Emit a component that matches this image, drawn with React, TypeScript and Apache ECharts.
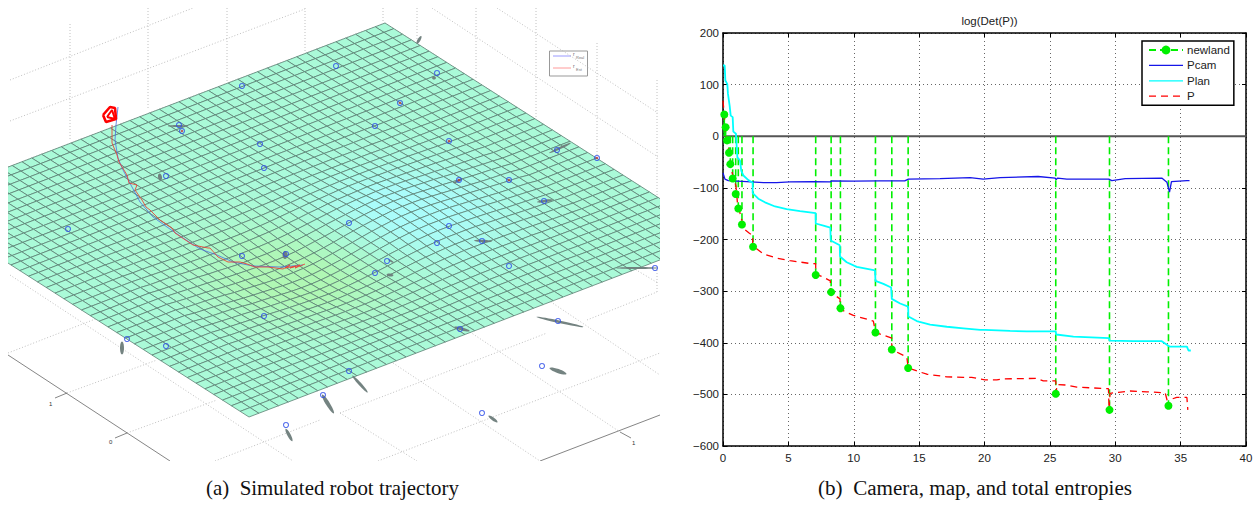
import React, { useEffect, useRef } from "react";
import * as echarts from "echarts";

// ---------- right panel: log(Det(P)) ----------
const xTicks = [0, 5, 10, 15, 20, 25, 30, 35, 40];
const newlandT = [0.1, 0.2, 0.31, 0.46, 0.56, 0.74, 0.97, 1.17, 1.45, 2.3, 7.09, 8.27, 8.98, 11.66, 12.91, 14.16, 25.45, 29.56, 34.07];
const newlandV = [42, 17.5, -8, -32, -54, -82, -112, -140, -171, -214, -268.7, -302, -333, -380, -413, -449, -498.7, -530, -522];
const pcam = [[0,-71],[0.15,-83],[0.41,-86],[1.81,-88],[3.09,-90],[4.1,-90],[5.13,-88.5],[6.9,-88],[8.19,-88.5],[8.3,-86.5],[9.97,-87],[12,-86.5],[13.9,-86.5],[14.18,-83],[16.6,-82],[18.9,-80],[19.9,-83],[21.2,-80],[24.1,-78],[25.4,-81],[25.48,-84],[25.58,-81],[26.3,-83],[29.5,-83],[29.74,-86],[30.76,-82],[33.56,-81],[33.95,-89],[34.15,-108],[34.3,-88],[35.48,-86],[35.68,-86]];
const plan = [[0,137],[0.13,137],[0.18,108],[0.33,101],[0.38,82],[0.51,59],[0.59,40],[0.74,37],[0.79,9],[0.99,5],[1.05,-21],[1.1,-41],[1.3,-47],[1.4,-67],[1.56,-76],[1.94,-85],[2.27,-90],[2.27,-110],[2.7,-121],[3.21,-128],[3.98,-136],[4.87,-141],[5.89,-145],[7.09,-149],[7.09,-169],[7.68,-173],[8.21,-177],[8.24,-202],[8.93,-211],[8.95,-233],[9.46,-244],[10.23,-253],[11.63,-260],[11.66,-280],[12.27,-286],[12.86,-293],[12.91,-315],[13.55,-324],[14.16,-330],[14.18,-349],[14.82,-358],[15.84,-365],[17.12,-369],[18.39,-372],[19.67,-375],[20.04,-375],[21.96,-377],[23.23,-378],[25.45,-378],[25.48,-384],[26.8,-388],[29.53,-391],[29.56,-396],[31.4,-397],[33.56,-397],[33.95,-404],[34.15,-407.5],[35.48,-407.5],[35.6,-415],[35.78,-415]];
const totalP = [[0,69],[0.1,40],[0.2,5],[0.36,-18],[0.54,-41],[0.66,-67],[0.99,-96],[1.1,-128],[1.38,-157],[1.63,-180],[2.02,-188],[2.27,-192],[2.27,-212],[3.09,-228],[4.11,-236],[5.13,-241],[6.53,-246],[7.09,-247],[7.09,-267],[7.68,-273],[8.21,-280],[8.21,-302],[8.95,-315],[8.95,-335],[9.97,-347],[11.5,-358],[11.66,-380],[12.91,-391],[12.91,-413],[14.06,-428],[14.16,-449],[15.59,-461],[17.12,-466],[18.39,-467],[19.02,-467],[20.04,-472],[20.94,-472],[21.45,-470],[24,-469],[24.5,-474],[25.45,-474],[25.48,-496],[25.55,-481],[26.3,-482],[27.06,-486],[29.48,-489],[29.53,-530],[29.6,-498],[30.25,-496],[31.14,-493.5],[32.42,-495],[33.82,-497],[34.07,-522],[34.15,-525],[34.33,-509],[34.7,-506],[35.48,-506],[35.55,-530]];

// ---------- left panel: simulated surface, read in picture-plane units ----------
const sheetTop = [385, 23];
const sheetLeft = [-86, 203];
const sheetRight = [720, 237];
const sheetRows = 48;
const sheetCols = 38;
const tableSpan = 40;
const firstRow = 6;
const firstCol = 12;
// surface height (half-units, up is positive) on a 40-step reading of the sheet,
// rows 6..34, columns 12..36; flat elsewhere
const heightTable = [
  [0,0,0,1,1,1,1,2,2,2,2,3,3,3,2,2,2,2,1,1,1,1,0,0,0],
  [0,0,1,1,1,1,2,2,3,3,4,4,4,4,4,3,3,2,2,1,1,1,1,0,0],
  [0,0,1,1,2,2,3,3,4,5,5,5,6,5,5,5,4,3,3,2,2,1,1,0,0],
  [0,1,1,1,2,3,4,5,5,6,7,7,8,7,7,6,5,5,4,3,2,1,1,1,0],
  [1,1,1,2,3,4,5,6,7,8,9,9,10,9,9,8,7,6,5,4,3,2,1,1,1],
  [1,1,2,2,3,4,6,7,8,10,11,11,11,11,11,10,8,7,6,4,3,2,2,1,1],
  [1,1,2,3,4,5,7,8,10,11,12,13,13,13,12,11,10,8,6,5,4,3,2,1,1],
  [1,1,2,3,4,6,7,9,11,13,14,15,15,15,14,12,11,9,7,5,4,3,2,1,1],
  [1,2,2,3,5,6,8,10,12,13,15,16,16,15,14,13,11,9,7,6,4,3,2,1,1],
  [1,2,2,3,5,6,8,10,12,14,15,16,16,15,14,13,11,9,7,6,4,3,2,1,1],
  [1,2,2,3,5,6,8,9,11,13,14,15,15,14,13,12,10,8,6,5,4,2,2,1,1],
  [1,1,2,3,4,5,7,8,10,11,12,12,12,12,11,10,8,6,5,4,3,2,1,1,0],
  [1,1,2,2,3,4,5,7,8,8,9,9,9,8,8,6,5,4,3,2,2,1,1,0,0],
  [0,1,1,2,2,3,4,4,5,5,5,5,5,4,4,3,2,1,1,0,0,0,0,0,0],
  [0,1,1,1,1,1,2,2,2,2,1,1,0,0,-1,-1,-2,-2,-2,-2,-1,-1,-1,-1,-1],
  [0,0,0,0,0,0,0,-1,-1,-2,-3,-4,-4,-5,-5,-5,-5,-5,-4,-4,-3,-2,-2,-1,-1],
  [0,0,0,-1,-1,-2,-2,-3,-4,-5,-6,-8,-8,-9,-9,-9,-8,-8,-7,-5,-4,-3,-2,-2,-1],
  [0,0,-1,-1,-2,-3,-4,-5,-7,-8,-10,-11,-12,-12,-12,-12,-11,-10,-8,-7,-5,-4,-3,-2,-1],
  [0,-1,-1,-2,-2,-3,-5,-6,-8,-10,-12,-13,-14,-15,-15,-14,-13,-11,-9,-8,-6,-5,-3,-2,-2],
  [-1,-1,-1,-2,-3,-4,-6,-7,-9,-11,-13,-14,-15,-16,-16,-15,-14,-12,-10,-8,-6,-5,-3,-2,-2],
  [-1,-1,-1,-2,-3,-4,-6,-7,-9,-11,-13,-15,-15,-16,-16,-15,-13,-12,-10,-8,-6,-5,-3,-2,-2],
  [-1,-1,-1,-2,-3,-4,-6,-7,-9,-11,-12,-14,-15,-15,-15,-14,-12,-11,-9,-7,-6,-4,-3,-2,-1],
  [0,-1,-1,-2,-3,-4,-5,-6,-8,-10,-11,-12,-13,-13,-13,-12,-11,-10,-8,-6,-5,-4,-3,-2,-1],
  [0,-1,-1,-2,-2,-3,-4,-6,-7,-8,-10,-11,-11,-12,-11,-11,-10,-8,-7,-6,-4,-3,-2,-2,-1],
  [0,-1,-1,-1,-2,-3,-4,-5,-6,-7,-8,-9,-10,-10,-10,-9,-8,-7,-6,-5,-4,-3,-2,-1,-1],
  [0,0,-1,-1,-1,-2,-3,-4,-5,-5,-6,-7,-7,-8,-7,-7,-6,-5,-5,-4,-3,-2,-1,-1,-1],
  [0,0,-1,-1,-1,-2,-2,-3,-3,-4,-5,-5,-5,-6,-5,-5,-5,-4,-3,-3,-2,-2,-1,-1,0],
  [0,0,0,-1,-1,-1,-1,-2,-2,-3,-3,-4,-4,-4,-4,-4,-3,-3,-2,-2,-1,-1,-1,-1,0],
  [0,0,0,0,-1,-1,-1,-1,-2,-2,-2,-2,-3,-3,-3,-2,-2,-2,-2,-1,-1,-1,-1,0,0],
];
const landmarks = [[336,66],[242,86],[179,125],[182,131],[260,144],[264,168],[166,176],[68,229],[437,73],[400,103],[375,126],[449,141],[557,150],[597,158],[459,180],[509,180],[544,201],[349,223],[449,226],[437,243],[482,241],[242,256],[286,254],[264,316],[127,339],[166,346],[323,395],[286,425],[387,261],[375,273],[509,266],[655,268],[558,321],[460,329],[349,371],[542,366],[482,413]];
const estimatedLandmarks = [[449,141],[597,158],[509,180],[400,103],[182,131],[459,180]];
// cx, cy, long radius, short radius, angle in degrees
const uncertainty = [[178,126,10,1,0],[160,177,3.5,2,80],[419,40,4.5,1.5,-60],[434,78,2,1.5,0],[560,148,12,1.2,-25],[458,181,5,1,-25],[545,201,8,1.2,-8],[483,241,9,1.2,3],[122,348,6.5,2,90],[285,255,4,2.5,90],[328,404,11,2,58],[289,435,7,1.7,62],[390,275,3.5,1.5,5],[391,261,3,1,30],[637,268,21,1,0],[560,322,24,1.2,12],[558,371,9,2,20],[360,384,11.5,1.5,48],[493,419,5.5,1.5,35],[462,329,8,1.5,15]];
const realPath = [[118,107],[116,125],[115,140],[118,158],[123,170],[132,187],[140,202],[153,217],[167,227],[183,238],[200,249],[217,255],[233,262],[253,266],[280,267],[303,265]];
const estPath = [[112,125],[112,143],[117,155],[119,162],[127,175],[129,183],[137,185],[135,190],[142,200],[146,207],[150,210],[160,220],[172,228],[175,233],[193,245],[208,248],[210,248],[218,257],[228,262],[240,262],[247,264],[255,267],[268,267],[283,269],[290,265],[285,268],[296,266],[290,268],[300,265],[295,268],[305,264]];
const cameraOutline = [[103,115],[110,107],[115,108],[116,119],[106,122],[103,115]];
const cameraInner = [[107,117],[112,110],[115,119],[107,117]];
// x1, y1, x2, y2 of the dotted box lines
const boxLines = [[70,24,70,140],[148,8,148,110],[227,8,227,82],[305,8,305,52],[383,8,383,23],[417,8,417,40],[476,8,476,80],[536,8,536,118],[597,43,597,158],[657,80,657,199],[10,80,193,8],[10,121,305,9],[8,167,385,23],[432,8,658,157],[497,8,658,113],[385,23,660,199],[10,275,293,461],[8,353,98,318],[67,393,157,360],[127,433,217,400],[215,461,320,420],[378,461,660,353],[340,413,547,333],[587,320,657,292],[393,363,540,461],[470,332,620,432],[548,300,660,375],[633,268,658,283],[657,270,657,292],[340,413,417,461]];
// x1, y1, x2, y2 of the solid axis lines and ticks
const axisSegments = [[8,355,170,461],[540,461,660,415],[67,393,55,398],[127,433,115,438],[620,432,631,438]];

const SANS = "Liberation Sans";
const SERIF = "Liberation Serif";

function tableAt(i: number, j: number) {
  const row = heightTable[i - firstRow];
  const v = row ? row[j - firstCol] : undefined;
  return v === undefined ? 0 : v;
}
// height of a mesh vertex, looked up in the reading table
function heightAt(i: number, j: number) {
  const a = (i / sheetRows) * tableSpan;
  const b = (j / sheetCols) * tableSpan;
  const i0 = Math.floor(a);
  const j0 = Math.floor(b);
  const fa = a - i0;
  const fb = b - j0;
  return (
    (1 - fa) * ((1 - fb) * tableAt(i0, j0) + fb * tableAt(i0, j0 + 1)) +
    fa * ((1 - fb) * tableAt(i0 + 1, j0) + fb * tableAt(i0 + 1, j0 + 1))
  );
}
function vertex(i: number, j: number): number[] {
  const a = i / sheetRows;
  const b = j / sheetCols;
  return [
    sheetTop[0] + a * (sheetLeft[0] - sheetTop[0]) + b * (sheetRight[0] - sheetTop[0]),
    sheetTop[1] + a * (sheetLeft[1] - sheetTop[1]) + b * (sheetRight[1] - sheetTop[1]) - heightAt(i, j) * 0.5,
  ];
}
function mix(a: number[], b: number[], t: number) {
  return `rgb(${a.map((v, k) => Math.round(v + (b[k] - v) * t)).join(",")})`;
}
const BASE = [170, 250, 216];
const HIGH = [170, 252, 250];
const LOW = [176, 247, 180];
function sheetColor(h: number) {
  return h >= 0 ? mix(BASE, HIGH, Math.min(1, h / 13)) : mix(BASE, LOW, Math.min(1, -h / 13));
}

const cells: number[][] = [];
for (let i = 0; i < sheetRows; i++) for (let j = 0; j < sheetCols; j++) cells.push([i, j]);

const newlandData: any[] = [];
newlandT.forEach((t, k) => {
  newlandData.push({ value: [t, 0], symbol: "none" });
  newlandData.push({ value: [t, newlandV[k]] });
  newlandData.push({ value: [t, null], symbol: "none" });
});

const leftAxes = { gridIndex: 0, type: "value", show: false, scale: true } as const;
const hiddenMarker = { opacity: 0, borderWidth: 0 };

function buildOption(): any {
  const segmentSeries = (name: string, data: number[][], color: string, width: number, dash: any) => ({
    name, type: "custom", coordinateSystem: "cartesian2d", xAxisIndex: 0, yAxisIndex: 0, silent: true, clip: true,
    data,
    renderItem: (_: any, api: any) => {
      const p1 = api.coord([api.value(0), api.value(1)]);
      const p2 = api.coord([api.value(2), api.value(3)]);
      return { type: "line", shape: { x1: p1[0], y1: p1[1], x2: p2[0], y2: p2[1] }, style: { stroke: color, lineWidth: width, lineDash: dash, fill: null } };
    },
  });
  return {
    animation: false,
    backgroundColor: "#fff",
    title: {
      text: "log(Det(P))", left: 984.5, top: 10, textAlign: "center",
      textStyle: { fontFamily: SANS, fontSize: 11.5, fontWeight: "normal", color: "#222" },
    },
    grid: [
      { left: 8, top: 8, width: 652, height: 453 },
      { left: 723, top: 33, width: 523, height: 413 },
    ],
    xAxis: [
      { ...leftAxes, min: 8, max: 660 },
      {
        gridIndex: 1, type: "value", min: 0, max: 40, interval: 5, position: "bottom",
        axisLine: { onZero: false, lineStyle: { color: "#000", width: 1.5 } },
        axisTick: { inside: true, length: 4, lineStyle: { color: "#000" } },
        axisLabel: { fontFamily: SANS, fontSize: 11.5, color: "#222", margin: 6, formatter: (v: number) => (xTicks.includes(v) ? String(v) : "") },
        splitLine: { show: true, lineStyle: { color: "#666", type: [1, 3], width: 1 } },
      },
      {
        gridIndex: 1, type: "value", min: 0, max: 40, interval: 5, position: "top",
        axisLine: { onZero: false, lineStyle: { color: "#000", width: 1.5 } },
        axisTick: { inside: true, length: 4, lineStyle: { color: "#000" } },
        axisLabel: { show: false }, splitLine: { show: false },
      },
    ],
    yAxis: [
      { ...leftAxes, min: 8, max: 461, inverse: true },
      {
        gridIndex: 1, type: "value", min: -600, max: 200, interval: 100, position: "left",
        axisLine: { onZero: false, lineStyle: { color: "#000", width: 1.5 } },
        axisTick: { inside: true, length: 4, lineStyle: { color: "#000" } },
        axisLabel: { fontFamily: SANS, fontSize: 11.5, color: "#222", margin: 4, formatter: (v: number) => (v < 0 ? "\u2212" + -v : String(v)) },
        splitLine: { show: true, lineStyle: { color: "#666", type: [1, 3], width: 1 } },
      },
      {
        gridIndex: 1, type: "value", min: -600, max: 200, interval: 100, position: "right",
        axisLine: { onZero: false, lineStyle: { color: "#000", width: 1.5 } },
        axisTick: { inside: true, length: 4, lineStyle: { color: "#000" } },
        axisLabel: { show: false }, splitLine: { show: false },
      },
    ],
    legend: {
      left: 1142, top: 41, orient: "vertical", selectedMode: false,
      data: [
        "newland",
        { name: "Pcam", itemStyle: hiddenMarker, lineStyle: { color: "#1515e8", width: 1.3, opacity: 1 } },
        { name: "Plan", itemStyle: hiddenMarker, lineStyle: { color: "#00ffff", width: 1.3, opacity: 1 } },
        { name: "P", itemStyle: hiddenMarker, lineStyle: { color: "#ff0000", width: 1.3, opacity: 1, type: [7, 5] } },
      ],
      backgroundColor: "#fff", borderColor: "#000", borderWidth: 1.5,
      padding: [3, 4, 3, 6], itemGap: 3.4, itemWidth: 34, itemHeight: 11,
      textStyle: { fontFamily: SANS, fontSize: 11.5, color: "#222", padding: [0, 0, 0, -1] },
      z: 20,
    },
    graphic: [
      { type: "text", x: 206, y: 477, style: { text: "(a)  Simulated robot trajectory", fontFamily: SERIF, fontSize: 20.9, fill: "#111" } },
      { type: "text", x: 818, y: 477, style: { text: "(b)  Camera, map, and total entropies", fontFamily: SERIF, fontSize: 21.1, fill: "#111" } },
      { type: "text", x: 49, y: 401, style: { text: "1", fontFamily: SANS, fontSize: 6, fill: "#333" } },
      { type: "text", x: 109, y: 439, style: { text: "0", fontFamily: SANS, fontSize: 6, fill: "#333" } },
      { type: "text", x: 632, y: 440, style: { text: "1", fontFamily: SANS, fontSize: 6, fill: "#333" } },
      { type: "rect", shape: { x: 549.5, y: 51, width: 38, height: 25 }, style: { fill: "#fff", stroke: "#999", lineWidth: 1 } },
      { type: "line", shape: { x1: 553, y1: 56, x2: 571, y2: 56 }, style: { stroke: "#9a9aff", lineWidth: 1 } },
      { type: "line", shape: { x1: 553, y1: 68, x2: 571, y2: 68 }, style: { stroke: "#ff9a9a", lineWidth: 1 } },
      { type: "text", x: 573, y: 51, style: { text: "r", fontFamily: SANS, fontSize: 5, fill: "#666" } },
      { type: "text", x: 576, y: 55, style: { text: "Real", fontFamily: SANS, fontSize: 4, fill: "#777" } },
      { type: "text", x: 573, y: 63, style: { text: "r", fontFamily: SANS, fontSize: 5, fill: "#666" } },
      { type: "text", x: 576, y: 67, style: { text: "Est", fontFamily: SANS, fontSize: 4, fill: "#777" } },
    ],
    series: [
      segmentSeries("box", boxLines, "#b0b0b0", 0.8, [1, 2]),
      segmentSeries("axes3d", axisSegments, "#666", 0.8, null),
      {
        name: "surface", type: "custom", coordinateSystem: "cartesian2d", xAxisIndex: 0, yAxisIndex: 0, silent: true, clip: true,
        data: cells,
        renderItem: (_: any, api: any) => {
          const i = api.value(0);
          const j = api.value(1);
          const points = [vertex(i, j), vertex(i + 1, j), vertex(i + 1, j + 1), vertex(i, j + 1)].map((p) => api.coord(p));
          const h = (heightAt(i, j) + heightAt(i + 1, j) + heightAt(i + 1, j + 1) + heightAt(i, j + 1)) / 4;
          return { type: "polygon", shape: { points }, style: { fill: sheetColor(h), stroke: "#5c8074", lineWidth: 0.8 } };
        },
      },
      {
        name: "uncertainty", type: "custom", coordinateSystem: "cartesian2d", xAxisIndex: 0, yAxisIndex: 0, silent: true, clip: true,
        data: uncertainty,
        renderItem: (_: any, api: any) => {
          const c = api.coord([api.value(0), api.value(1)]);
          return {
            type: "ellipse", x: c[0], y: c[1], rotation: (-api.value(4) * Math.PI) / 180,
            shape: { cx: 0, cy: 0, rx: api.value(2), ry: api.value(3) },
            style: { fill: "#6d7c7a", opacity: 0.95 },
          };
        },
      },
      { name: "r_Real", type: "line", xAxisIndex: 0, yAxisIndex: 0, data: realPath, symbol: "none", silent: true, lineStyle: { color: "#4a6fe0", width: 0.8 } },
      { name: "r_Est", type: "line", xAxisIndex: 0, yAxisIndex: 0, data: estPath, symbol: "none", silent: true, lineStyle: { color: "#e8453a", width: 0.9 } },
      { name: "landmarks", type: "scatter", xAxisIndex: 0, yAxisIndex: 0, data: landmarks, silent: true, symbol: "circle", symbolSize: 5, itemStyle: { color: "transparent", borderColor: "#2f4fe8", borderWidth: 1.1 } },
      { name: "estimates", type: "scatter", xAxisIndex: 0, yAxisIndex: 0, data: estimatedLandmarks, silent: true, symbol: "circle", symbolSize: 2.5, itemStyle: { color: "#c8303a" } },
      { name: "camera", type: "line", xAxisIndex: 0, yAxisIndex: 0, data: cameraOutline, symbol: "none", silent: true, lineStyle: { color: "#f00", width: 2.6 } },
      { name: "cameraInner", type: "line", xAxisIndex: 0, yAxisIndex: 0, data: cameraInner, symbol: "none", silent: true, lineStyle: { color: "#f00", width: 2 } },

      { name: "zero", type: "line", xAxisIndex: 1, yAxisIndex: 1, data: [[0, 0], [40, 0]], symbol: "none", silent: true, lineStyle: { color: "#555", width: 2 } },
      {
        name: "newland", type: "line", xAxisIndex: 1, yAxisIndex: 1, data: newlandData, connectNulls: false,
        symbol: "circle", symbolSize: 8, showAllSymbol: true, silent: true,
        itemStyle: { color: "#00f000" }, lineStyle: { color: "#00f000", width: 1.6, type: [7, 4] },
      },
      { name: "Pcam", type: "line", xAxisIndex: 1, yAxisIndex: 1, data: pcam, symbol: "none", silent: true, itemStyle: { color: "#1515e8" }, lineStyle: { color: "#1515e8", width: 1.3 } },
      { name: "Plan", type: "line", xAxisIndex: 1, yAxisIndex: 1, data: plan, symbol: "none", silent: true, itemStyle: { color: "#00ffff" }, lineStyle: { color: "#00ffff", width: 1.8 } },
      { name: "P", type: "line", xAxisIndex: 1, yAxisIndex: 1, data: totalP, symbol: "none", silent: true, itemStyle: { color: "#ff0000" }, lineStyle: { color: "#ff0000", width: 1.3, type: [7, 5] } },
    ],
  };
}

export default function App() {
  const ref = useRef<HTMLDivElement>(null);
  useEffect(() => {
    document.body.style.margin = "0";
    const chart = echarts.init(ref.current!, undefined, { renderer: "svg" });
    chart.setOption(buildOption());
    return () => chart.dispose();
  }, []);
  return <div ref={ref} style={{ width: 1259, height: 505 }} />;
}
